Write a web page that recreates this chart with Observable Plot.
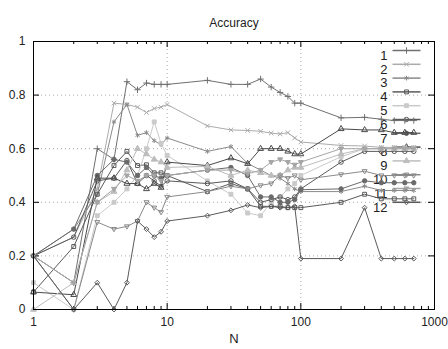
<!DOCTYPE html>
<html><head><meta charset="utf-8">
<script src="https://cdn.jsdelivr.net/npm/d3@7"></script>
<script src="https://cdn.jsdelivr.net/npm/@observablehq/plot@0.6"></script>
<style>body{margin:0;background:#fff} #chart{width:448px;height:349px}</style>
</head><body><div id="chart"></div>
<script>
const N = [1,2,3,4,5,6,7,8,9,10,20,30,40,50,60,70,80,90,100,200,300,400,500,600,700];
const s1 = [0.2,0.1,0.6,0.56,0.85,0.82,0.845,0.84,0.84,0.84,0.855,0.84,0.84,0.86,0.83,0.81,0.795,0.77,0.77,0.715,0.717,0.71,0.705,0.705,0.705];
const s2 = [0.2,0.27,0.45,0.77,0.765,0.755,0.735,0.75,0.755,0.765,0.685,0.67,0.668,0.665,0.658,0.655,0.66,0.64,0.625,0.612,0.61,0.605,0.605,0.605,0.605];
const s3 = [0.2,0.3,0.43,0.7,0.765,0.65,0.66,0.63,0.615,0.64,0.59,0.608,0.545,0.52,0.5,0.49,0.47,0.45,0.44,0.44,0.46,0.444,0.444,0.444,0.444];
const s4 = [0.065,0.235,0.43,0.537,0.59,0.537,0.54,0.51,0.51,0.5,0.44,0.47,0.45,0.385,0.385,0.385,0.38,0.38,0.38,0.40,0.43,0.413,0.413,0.413,0.413];
const s5 = [0.1,0.0,0.35,0.4,0.45,0.5,0.6,0.7,0.62,0.575,0.48,0.43,0.36,0.35,0.4,0.42,0.45,0.47,0.5,0.57,0.6,0.6,0.6,0.6,0.6];
const s6 = [0.2,0.27,0.48,0.49,0.556,0.47,0.5,0.48,0.46,0.48,0.47,0.48,0.45,0.4,0.41,0.42,0.41,0.42,0.45,0.55,0.59,0.59,0.59,0.59,0.59];
const s7 = [0.2,0.3,0.5,0.56,0.55,0.5,0.53,0.5,0.49,0.5,0.52,0.53,0.5,0.42,0.42,0.4,0.4,0.41,0.447,0.45,0.48,0.473,0.473,0.473,0.473];
const s8 = [0.065,0.055,0.49,0.49,0.47,0.47,0.45,0.47,0.455,0.55,0.537,0.565,0.544,0.6,0.6,0.6,0.59,0.58,0.58,0.674,0.67,0.67,0.66,0.66,0.66];
const s9 = [0.0,0.1,0.4,0.44,0.52,0.6,0.58,0.56,0.55,0.53,0.534,0.5,0.52,0.51,0.5,0.5,0.52,0.53,0.53,0.58,0.6,0.6,0.6,0.6,0.6];
const s10 = [0.2,0.0,0.326,0.3,0.31,0.33,0.4,0.38,0.363,0.42,0.44,0.46,0.45,0.463,0.47,0.5,0.49,0.5,0.484,0.504,0.516,0.5,0.5,0.5,0.5];
const s11 = [0.2,0.1,0.4,0.45,0.5,0.48,0.5,0.5,0.48,0.5,0.52,0.52,0.506,0.52,0.55,0.56,0.55,0.54,0.55,0.6,0.6,0.6,0.6,0.6,0.6];
const s12 = [0.2,0.0,0.1,0.0,0.1,0.33,0.3,0.27,0.29,0.33,0.35,0.37,0.39,0.38,0.385,0.38,0.38,0.385,0.19,0.19,0.38,0.19,0.19,0.19,0.19];
const seriesNames = ["1","2","3","4","5","6","7","8","9","10","11","12"];
const seriesValues = [s1,s2,s3,s4,s5,s6,s7,s8,s9,s10,s11,s12];
const xTicks = [1,10,100,1000];
const xTickLabels = ["1","10","100","1000"];
const xMinor = [2,3,4,5,6,7,8,9,20,30,40,50,60,70,80,90,200,300,400,500,600,700,800,900];
const yTicks = [0,0.2,0.4,0.6,0.8,1];
const yTickLabels = ["0","0.2","0.4","0.6","0.8","1"];
const yGrid = [0.2,0.4,0.6,0.8];
const xGrid = [10,100];
const title = "Accuracy";
const xLabel = "N";

const W = 448, H = 349, mL = 33, mR = 14, mT = 41, mB = 40;
const xDom = [1,1000], yDom = [0,1];
const plotW = W - mL - mR, plotH = H - mT - mB;
// tick lengths expressed in scale units (pixels -> domain fraction)
const yUnit = (px) => px / plotH * (yDom[1]-yDom[0]);
const xFactor = (px) => Math.pow(10, px / plotW * Math.log10(xDom[1]/xDom[0]));

const colors = ["#707070","#ababab","#8a8a8a","#5a5a5a","#cacaca","#5a5a5a","#6a6a6a","#4a4a4a","#bdbdbd","#8a8a8a","#a5a5a5","#5a5a5a"];
const invTri = {draw(ctx, size){ const r = Math.sqrt(size/3); ctx.moveTo(-r*1.1,-r*0.7); ctx.lineTo(r*1.1,-r*0.7); ctx.lineTo(0,r*1.2); ctx.closePath(); }};
const sym = [
  {s:"plus", f:"none"},{s:"times", f:"none"},{s:"asterisk", f:"none"},{s:"square", f:"none"},
  {s:"square", f:"fill"},{s:"circle", f:"none"},{s:"circle", f:"fill"},{s:"triangle", f:"none"},
  {s:"triangle", f:"fill"},{s:invTri, f:"none"},{s:invTri, f:"fill"},{s:"diamond2", f:"none"}
];
const lineSym = {draw(ctx){ ctx.moveTo(-14,0); ctx.lineTo(14,0); }};

const marks = [
  Plot.gridX(xGrid, {stroke:"#aaa", strokeOpacity:1, strokeDasharray:"1,3"}),
  Plot.gridY(yGrid, {stroke:"#aaa", strokeOpacity:1, strokeDasharray:"1,3"}),
  Plot.axisX(xTicks, {tickSize:0, tickPadding:8, tickFormat:(d)=>xTickLabels[xTicks.indexOf(d)], label:null, fontSize:12}),
  Plot.axisY(yTicks, {tickSize:0, tickPadding:8, tickFormat:(d)=>yTickLabels[yTicks.indexOf(d)], label:null, fontSize:12}),
  // inward ticks (gnuplot style) on all four borders
  Plot.ruleX(xTicks, {x:d=>d, y1:yDom[0], y2:yDom[0]+yUnit(6), stroke:"#000"}),
  Plot.ruleX(xMinor, {x:d=>d, y1:yDom[0], y2:yDom[0]+yUnit(3), stroke:"#000"}),
  Plot.ruleX(xTicks, {x:d=>d, y1:yDom[1], y2:yDom[1]-yUnit(6), stroke:"#000"}),
  Plot.ruleX(xMinor, {x:d=>d, y1:yDom[1], y2:yDom[1]-yUnit(3), stroke:"#000"}),
  Plot.ruleY(yTicks, {y:d=>d, x1:xDom[0], x2:xDom[0]*xFactor(6), stroke:"#000"}),
  Plot.ruleY(yTicks, {y:d=>d, x1:xDom[1], x2:xDom[1]/xFactor(6), stroke:"#000"}),
  Plot.text([title], {frameAnchor:"top", dy:-23, fontSize:12}),
  Plot.text([xLabel], {frameAnchor:"bottom", dy:33, fontSize:13}),
];

seriesNames.forEach((name,i)=>{
  const c = colors[i];
  const sd = sym[i];
  const dy = 9 + i*13.8;
  marks.push(Plot.text([name], {frameAnchor:"top-right", dx:-47, dy, textAnchor:"end", fontSize:13, fill:"#222"}));
  marks.push(Plot.dot([name], {frameAnchor:"top-right", dx:-28, dy, symbol:lineSym, r:3, stroke:c, fill:"none"}));
  marks.push(Plot.dot([name], {frameAnchor:"top-right", dx:-28, dy, symbol:sd.s, r:2.2, stroke:c, fill: sd.f==="fill"? c : "none", strokeWidth:1}));
});

seriesNames.forEach((name,i)=>{
  const rows = N.map((n,j)=>({N:n, v:seriesValues[i][j]}));
  const c = colors[i];
  const sd = sym[i];
  marks.push(Plot.line(rows, {x:"N", y:"v", stroke:c, strokeWidth:1}));
  marks.push(Plot.dot(rows, {x:"N", y:"v", symbol:sd.s, r:2.2, stroke:c, fill: sd.f==="fill"? c : "none", strokeWidth:1}));
});

marks.push(Plot.frame({stroke:"#000", strokeWidth:1}));

const chart = Plot.plot({
  width:W, height:H,
  marginLeft:mL, marginRight:mR, marginTop:mT, marginBottom:mB,
  style:{fontFamily:"'Liberation Sans', Arial, sans-serif", fontSize:"12px", background:"#fff", color:"#222"},
  x:{type:"log", domain:xDom, axis:null},
  y:{domain:yDom, axis:null},
  marks
});
document.getElementById("chart").appendChild(chart);
</script>
</body></html>
